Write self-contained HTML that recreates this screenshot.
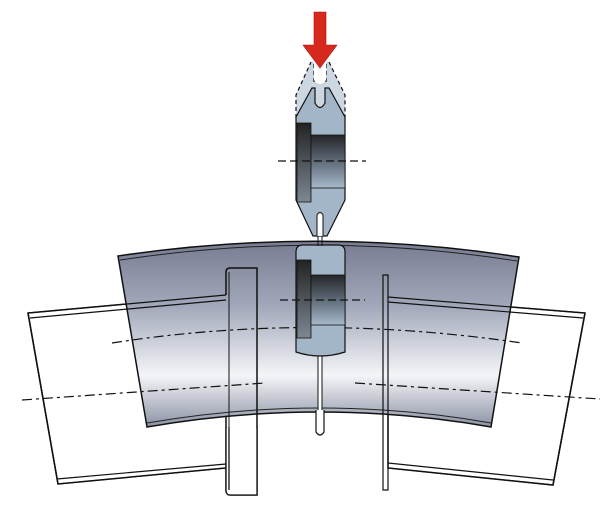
<!DOCTYPE html>
<html><head><meta charset="utf-8"><style>html,body{margin:0;padding:0;background:#fff}svg{display:block}</style></head>
<body>
<svg width="612" height="512" viewBox="0 0 612 512" xmlns="http://www.w3.org/2000/svg">
<defs>
<linearGradient id="band" gradientUnits="userSpaceOnUse" x1="0" y1="240" x2="0" y2="428">
<stop offset="0" stop-color="#777b90"/>
<stop offset="0.35" stop-color="#a2a8ba"/>
<stop offset="0.72" stop-color="#f4f5f8"/>
<stop offset="1" stop-color="#8a90a3"/>
</linearGradient>
<linearGradient id="dark" x1="0" y1="0" x2="0" y2="1">
<stop offset="0" stop-color="#252528"/>
<stop offset="0.5" stop-color="#5f6b78"/>
<stop offset="1" stop-color="#a7b9cb"/>
</linearGradient>
<linearGradient id="darkv" x1="0" y1="0" x2="0" y2="1">
<stop offset="0" stop-color="#222"/>
<stop offset="1" stop-color="#7d8894"/>
</linearGradient>
</defs>

<path d="M28,313 L226,295 L226,468 L58,484 Z" fill="#fff" stroke="#111" stroke-width="1.5"/>
<path d="M388,297 L585,313 L553,485 L388,468 Z" fill="#fff" stroke="#111" stroke-width="1.5"/>

<path d="M118,256 Q320,226 519,257 L491,427 Q320,397 147,427 Z" fill="url(#band)" stroke="#111" stroke-width="1.5"/>
<path d="M120,260 Q320,230 517,261" stroke="#222" stroke-width="1" fill="none"/>
<path d="M147,423 Q320,393 491,423" stroke="#222" stroke-width="1" fill="none"/>

<path d="M28,313 L226,295 M30,318 L226,300 M57,479 L226,464 M58,484 L226,468" stroke="#111" stroke-width="1.2" fill="none"/>
<path d="M388,297 L585,313 M388,302 L583,318 M388,463 L553,480 M388,468 L553,485" stroke="#111" stroke-width="1.2" fill="none"/>
<path d="M28,313 L58,484 M585,313 L553,485" stroke="#111" stroke-width="1.5" fill="none"/>

<path d="M226,295 L226,272 Q226,268 230,268 L257,268 L257,495 L230,495 Q226,495 226,490 L226,468" fill="none" stroke="#111" stroke-width="1.5"/>
<path d="M229,272 L229,490" stroke="#111" stroke-width="1" fill="none"/>
<rect x="226" y="428" width="31" height="67" fill="#fff" stroke="none"/>
<path d="M226,427 L226,490 Q226,495 230,495 L257,495 L257,427 M229,427 L229,490" fill="none" stroke="#111" stroke-width="1.3"/>
<path d="M383,275 L388,275 L388,490 L383,490 Z" fill="none" stroke="#111" stroke-width="1.2"/>

<path d="M22,400 L265,383" stroke="#111" stroke-width="1.2" stroke-dasharray="10,4,3,4" fill="none"/>
<path d="M355,383 L600,399" stroke="#111" stroke-width="1.2" stroke-dasharray="10,4,3,4" fill="none"/>
<path d="M112,343 Q310,312 522,343" stroke="#111" stroke-width="1.2" stroke-dasharray="10,4,3,4" fill="none"/>

<rect x="318" y="355" width="4" height="60" fill="#fff" stroke="#111" stroke-width="1"/>
<path d="M316,410 L316,432 Q320,438 324,432 L324,410" fill="#fff" stroke="#111" stroke-width="1.2"/>

<path d="M296,252 Q296,245 303,245 L338,245 Q345,245 345,252 L345,352 Q320,360 296,352 Z" fill="#a3b6c8" stroke="#111" stroke-width="1.2"/>
<rect x="297" y="260" width="14" height="78" fill="url(#darkv)" stroke="#111" stroke-width="0.8"/>
<rect x="311" y="275" width="34" height="50" fill="url(#dark)" stroke="#111" stroke-width="0.8"/>
<path d="M280,300 L365,300" stroke="#111" stroke-width="1.3" stroke-dasharray="8,4"/>

<path d="M296,118 L296,95 L311,62 L329,62 L345,95 L345,118 Z" fill="#ccd7e1"/>
<path d="M296,118 L296,95 L311,62 M329,62 L345,95 L345,118 M314,64 L314,82 M326,64 L326,82" stroke="#111" stroke-width="1.2" stroke-dasharray="4,3" fill="none"/>
<path d="M314,62 L326,62 L326,80 Q320,88 314,80 Z" fill="#fff"/>
<path d="M296,117 L312,88 L315,88 L315,103 Q320,112 325,103 L325,88 L329,88 L345,117 L345,200 L327,236 L313,236 L296,200 Z" fill="#a3b6c8" stroke="#111" stroke-width="1.2"/>
<path d="M317,236 L317,215 Q320,210 323,215 L323,236" fill="#fff" stroke="#111" stroke-width="1"/>
<rect x="297" y="123" width="14" height="79" fill="url(#darkv)" stroke="#111" stroke-width="0.8"/>
<rect x="311" y="135" width="34" height="53" fill="url(#dark)" stroke="#111" stroke-width="0.8"/>
<path d="M278,161 L366,161" stroke="#111" stroke-width="1.3" stroke-dasharray="8,4"/>
<path d="M318,236 L318,246 M322,236 L322,246" stroke="#111" stroke-width="1"/>

<path d="M314,12 L326,12 L326,45 L337,45 L320,68 L303,45 L314,45 Z" fill="#d7281e" stroke="#a01810" stroke-width="0.6"/>
</svg>
</body></html>
